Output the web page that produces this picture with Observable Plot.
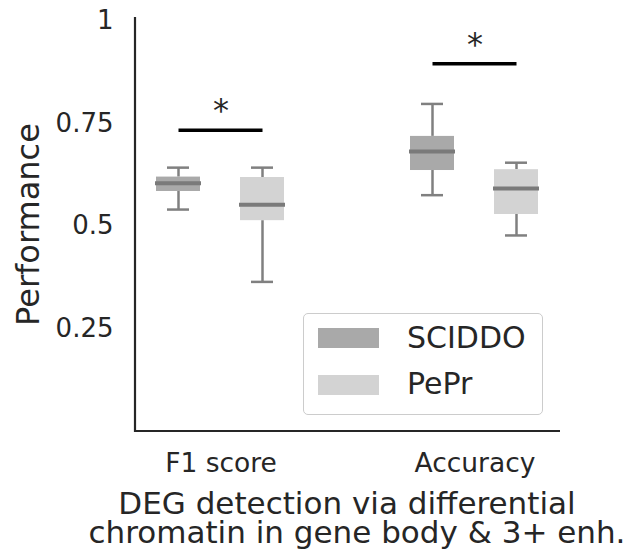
<!DOCTYPE html>
<html>
<head>
<meta charset="utf-8">
<script src="https://cdn.jsdelivr.net/npm/d3@7"></script>
<script src="https://cdn.jsdelivr.net/npm/@observablehq/plot@0.6"></script>
<style>
  html, body { margin: 0; padding: 0; background: #fff; }
  body { font-family: "DejaVu Sans", sans-serif; color: #262626; }
  #wrap { position: relative; width: 624px; height: 555px; overflow: hidden; }
  #legend { position: absolute; left: 303px; top: 313px; width: 240px; height: 102px; box-sizing: border-box;
            border: 1.5px solid #cccccc; border-radius: 5px; background: rgba(255,255,255,0.8); }
  .sw { position: absolute; left: 318px; width: 61px; height: 20px; }
  .lt { position: absolute; left: 407px; font-size: 30px; line-height: 30px; white-space: nowrap; color: #262626; }
  .xl { position: absolute; width: 640px; text-align: center; font-size: 31px; line-height: 28px; height: 28px; color: #262626; white-space: nowrap; }
</style>
</head>
<body>
<div id="wrap">
  <div id="chart"></div>
  <div id="legend"></div>
  <div id="legendItems"></div>
  <div class="xl" style="left:27px; top:489px;">DEG detection via differential</div>
  <div class="xl" style="left:37px; top:518px;">chromatin in gene body &amp; 3+ enh.</div>
</div>
<script>
// ---- data ----
const metrics = ["F1 score", "Accuracy"];
const methods = ["SCIDDO", "PePr"];
const methodColors = ["#a9a9a9", "#d3d3d3"];

const boxMetric   = ["F1 score", "F1 score", "Accuracy", "Accuracy"];
const boxMethod   = ["SCIDDO", "PePr", "SCIDDO", "PePr"];
const whiskerLow  = [0.540, 0.364, 0.575, 0.477];
const quartile1   = [0.584, 0.513, 0.635, 0.528];
const medians     = [0.604, 0.552, 0.681, 0.591];
const quartile3   = [0.619, 0.618, 0.718, 0.637];
const whiskerHigh = [0.642, 0.642, 0.797, 0.654];

const sigMetric = ["F1 score", "Accuracy"];
const sigHeight = [0.733, 0.895];
const sigLabel  = ["*", "*"];

const yTicks = [0.25, 0.5, 0.75, 1];
const yLabel = "Performance";

// ---- tables ----
const boxes = boxMetric.map((m, i) => ({
  metric: m, method: boxMethod[i],
  low: whiskerLow[i], q1: quartile1[i], median: medians[i], q3: quartile3[i], high: whiskerHigh[i]
}));
const sig = sigMetric.map((m, i) => ({metric: m, y: sigHeight[i], label: sigLabel[i], a: methods[0], b: methods[1]}));

const W = 624, H = 485;
const mL = 135, mR = 64, mT = 17, mB = 54;
const lineColor = "#808080";

const chart = Plot.plot({
  width: W, height: H,
  marginLeft: mL, marginRight: mR, marginTop: mT, marginBottom: mB,
  style: {fontFamily: "DejaVu Sans", color: "#262626", background: "white", overflow: "visible"},
  fx: {domain: metrics, paddingInner: 0.327, paddingOuter: 0, label: null},
  x: {domain: methods, paddingInner: 0.4706, paddingOuter: 0.2418, axis: null},
  y: {domain: [0, 1.0073], label: null},
  color: {domain: methods, range: methodColors},
  marks: [
    Plot.axisY(yTicks, {tickSize: 0, tickPadding: 22, fontSize: 26, label: null, tickFormat: d => String(d)}),
    Plot.axisFx({anchor: "bottom", tickSize: 0, tickPadding: 22, fontSize: 26.5, label: null}),
    // whiskers
    Plot.ruleX(boxes, {fx: "metric", x: "method", y1: "low", y2: "q1", stroke: lineColor, strokeWidth: 2.5}),
    Plot.ruleX(boxes, {fx: "metric", x: "method", y1: "q3", y2: "high", stroke: lineColor, strokeWidth: 2.5}),
    // caps
    Plot.tickY(boxes, {fx: "metric", x: "method", y: "low", stroke: lineColor, strokeWidth: 2.5, insetLeft: 11, insetRight: 11}),
    Plot.tickY(boxes, {fx: "metric", x: "method", y: "high", stroke: lineColor, strokeWidth: 2.5, insetLeft: 11, insetRight: 11}),
    // boxes
    Plot.barY(boxes, {fx: "metric", x: "method", y1: "q1", y2: "q3", fill: "method"}),
    // medians
    Plot.tickY(boxes, {fx: "metric", x: "method", y: "median", stroke: "#7a7a7a", strokeWidth: 4, insetLeft: -1, insetRight: -1}),
    // significance
    Plot.link(sig, {fx: "metric", x1: "a", x2: "b", y1: "y", y2: "y", stroke: "black", strokeWidth: 3.5}),
    Plot.text(sig, {fx: "metric", y: "y", text: "label", fontSize: 32, lineAnchor: "bottom", dy: -9, fill: "#262626"}),
    // y label
    Plot.text([yLabel], {fx: () => metrics[0], frameAnchor: "left", textAnchor: "middle", rotate: -90, lineAnchor: "bottom", dx: -96.7, fontSize: 32, fill: "#262626"})
  ]
});

// spines (seaborn style: left & bottom)
const ys = chart.scale("y");
const yBottom = ys.apply(0), yTop = ys.apply(ys.domain[1]);
const svg = d3.select(chart.tagName.toLowerCase() === "svg" ? chart : chart.querySelector("svg"));
svg.append("line").attr("x1", mL).attr("x2", mL).attr("y1", yTop).attr("y2", yBottom + 1)
  .attr("stroke", "#262626").attr("stroke-width", 2.2);
svg.append("line").attr("x1", mL - 1).attr("x2", W - mR).attr("y1", yBottom).attr("y2", yBottom)
  .attr("stroke", "#262626").attr("stroke-width", 2.2);

document.getElementById("chart").appendChild(chart);

// legend (drawn from the colour scale)
const cs = chart.scale("color");
const items = document.getElementById("legendItems");
const swTops = [328, 375], txtTops = [322.5, 368.5];
cs.domain.forEach((m, i) => {
  const sw = document.createElement("div");
  sw.className = "sw"; sw.style.top = swTops[i] + "px"; sw.style.background = cs.apply(m);
  const t = document.createElement("div");
  t.className = "lt"; t.style.top = txtTops[i] + "px"; t.textContent = m;
  items.appendChild(sw); items.appendChild(t);
});
</script>
</body>
</html>
